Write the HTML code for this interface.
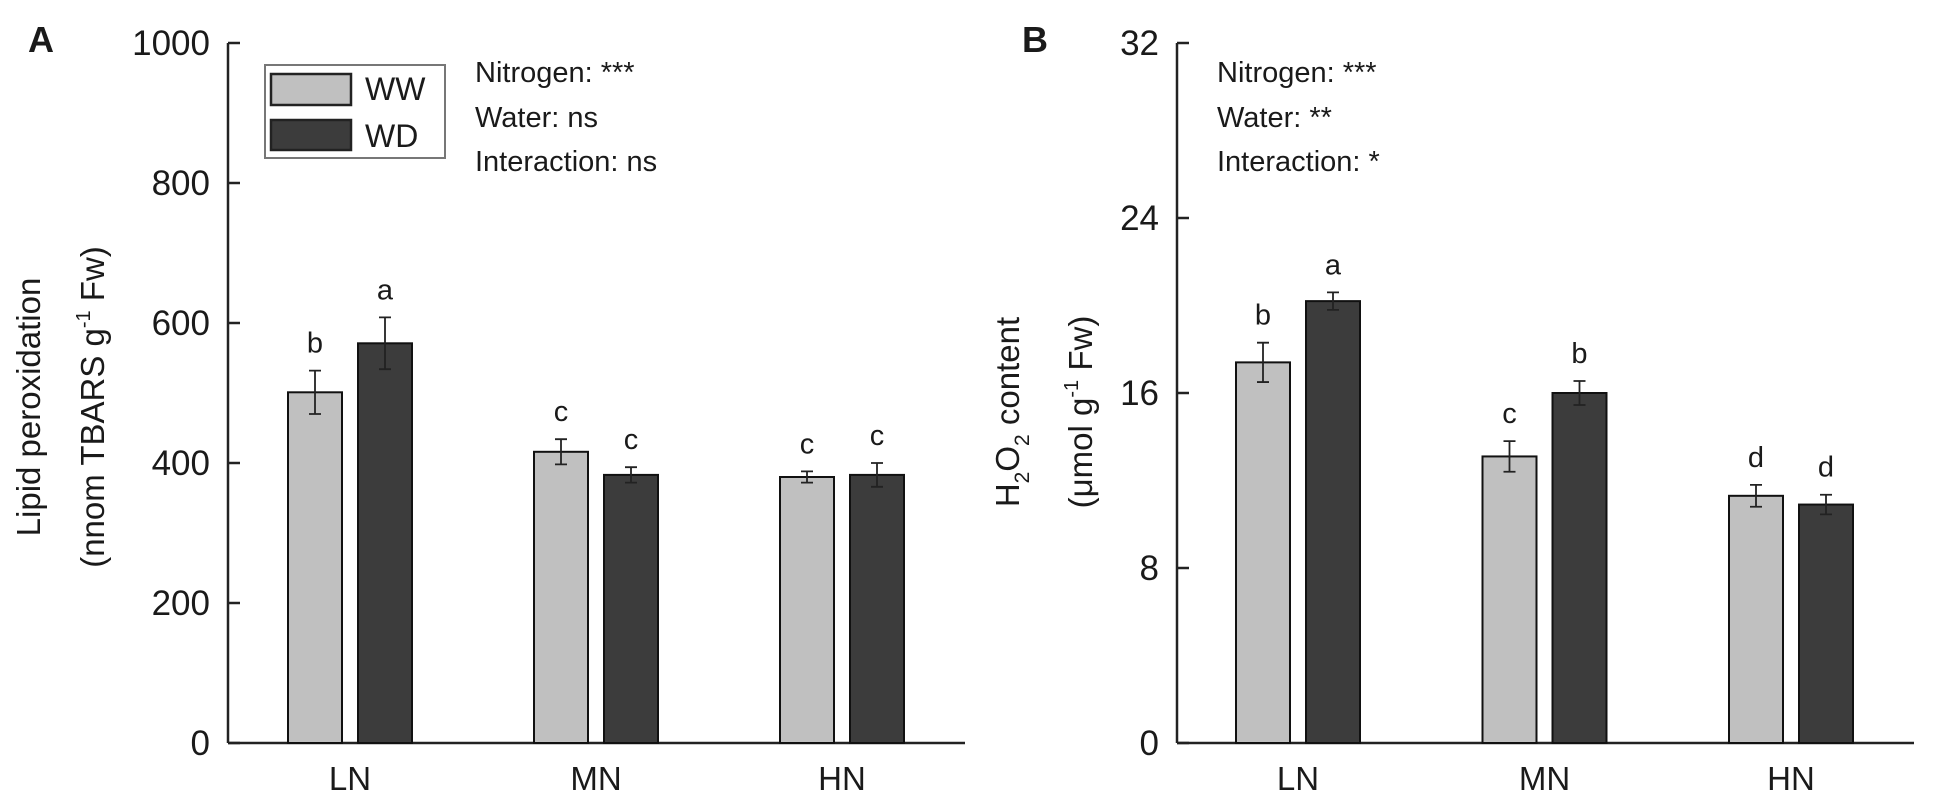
<!DOCTYPE html>
<html><head><meta charset="utf-8"><style>
html,body{margin:0;padding:0;background:#fff}
svg{display:block}
text{font-family:"Liberation Sans",Arial,sans-serif;fill:#1a1a1a}
</style></head><body>
<svg id="fig" width="1934" height="808" viewBox="0 0 1934 808" xmlns="http://www.w3.org/2000/svg">
<g id="pA"></g>
<g id="pB"></g>
</svg>
<script>
const categories = ["LN","MN","HN"];
const aWW = [501, 416, 380];
const aWD = [571, 383, 383];
const aWWerr = [31, 18, 8];
const aWDerr = [37, 11, 17];
const aWWletters = ["b","c","c"];
const aWDletters = ["a","c","c"];
const aTicks = [0,200,400,600,800,1000];
const bWW = [17.4, 13.1, 11.3];
const bWD = [20.2, 16.0, 10.9];
const bWWerr = [0.9, 0.7, 0.5];
const bWDerr = [0.4, 0.55, 0.45];
const bWWletters = ["b","c","d"];
const bWDletters = ["a","b","d"];
const bTicks = [0,8,16,24,32];

const NS="http://www.w3.org/2000/svg";
function mk(parent, tag, attrs, txt){
  const e=document.createElementNS(NS,tag);
  for(const k in attrs) e.setAttribute(k,attrs[k]);
  if(txt!==undefined) e.textContent=txt;
  parent.appendChild(e); return e;
}

function panel(g, o){
  const y0=743, y1=43;
  const ys=v=>y0-(v-o.min)/(o.max-o.min)*(y0-y1);
  const xc=i=>o.c0+i*o.step;
  // axes
  const ya=mk(g,'line',{x1:o.ax,y1:y1,x2:o.ax,y2:y0,stroke:'#222','stroke-width':2.5});
  
  
  const xa=mk(g,'line',{x1:o.ax,y1:y0,x2:o.axEnd,y2:y0,stroke:'#222','stroke-width':2.5});
  
  
  o.ticks.forEach(t=>{
    const y=ys(t);
    const tk=mk(g,'line',{x1:o.ax,y1:y,x2:o.ax+12,y2:y,stroke:'#222','stroke-width':2.5});
    
    
    const tl=mk(g,'text',{x:o.ax-18,y:y+12,'text-anchor':'end','font-size':35},String(t));
    
    
  });
  categories.forEach((c,i)=>{
    const cl=mk(g,'text',{x:xc(i),y:790,'text-anchor':'middle','font-size':33},c);
    
    
    [[o.ww,o.wwe,o.wwl,'#c0c0c0',-1,'ww'],[o.wd,o.wde,o.wdl,'#3c3c3c',1,'wd']].forEach(s=>{
      const v=s[0][i], e=s[1][i];
      const bx = s[4]<0 ? xc(i)-8-54 : xc(i)+8;
      const r=mk(g,'rect',{x:bx,y:ys(v),width:54,height:y0-ys(v),fill:s[3],stroke:'#111','stroke-width':2});
      
      
      const cx=bx+27;
      const eb=mk(g,'path',{d:`M${cx-6},${ys(v+e)}H${cx+6}M${cx},${ys(v+e)}V${ys(v-e)}M${cx-6},${ys(v-e)}H${cx+6}`,stroke:'#222','stroke-width':1.8,fill:'none'});
      
      
      const lt=mk(g,'text',{x:cx,y:ys(v+e)-18,'text-anchor':'middle','font-size':29},s[2][i]);
      
      
    });
  });
}

const A=document.getElementById('pA');
panel(A,{min:0,max:1000,ticks:aTicks,ax:228,axEnd:965,c0:350,step:246,ww:aWW,wd:aWD,wwe:aWWerr,wde:aWDerr,wwl:aWWletters,wdl:aWDletters});
const B=document.getElementById('pB');
panel(B,{min:0,max:32,ticks:bTicks,ax:1177,axEnd:1914,c0:1298,step:246.5,ww:bWW,wd:bWD,wwe:bWWerr,wde:bWDerr,wwl:bWWletters,wdl:bWDletters});
</script>
<script>
const svg=document.getElementById('fig');
const A2=document.getElementById('pA'), B2=document.getElementById('pB');
function t(p,attrs,html,name){
  const e=document.createElementNS("http://www.w3.org/2000/svg",'text');
  for(const k in attrs) e.setAttribute(k,attrs[k]);
  e.innerHTML=html;
  
  
  p.appendChild(e); return e;
}
t(A2,{x:28,y:52,'font-size':36,'font-weight':'bold'},'A','panel-label-a');
t(B2,{x:1022,y:52,'font-size':36,'font-weight':'bold'},'B','panel-label-b');
// legend
const lg=document.createElementNS("http://www.w3.org/2000/svg",'g');


A2.appendChild(lg);
lg.innerHTML='<rect x="265" y="65" width="180" height="93" fill="#fff" stroke="#777" stroke-width="2"/>'+
 '<rect x="271" y="74" width="80" height="31" fill="#c0c0c0" stroke="#222" stroke-width="2.5"/>'+
 '<rect x="271" y="120" width="80" height="30" fill="#3c3c3c" stroke="#222" stroke-width="2.5"/>';
t(lg,{x:365,y:100,'font-size':32},'WW','legend-entry-ww');
t(lg,{x:365,y:147,'font-size':32},'WD','legend-entry-wd');
t(A2,{x:475,y:82,'font-size':29},'Nitrogen: ***','stat-nitrogen');
t(A2,{x:475,y:127,'font-size':29},'Water: ns','stat-water');
t(A2,{x:475,y:171,'font-size':29},'Interaction: ns','stat-interaction');
t(B2,{x:1217,y:82,'font-size':29},'Nitrogen: ***','stat-nitrogen');
t(B2,{x:1217,y:127,'font-size':29},'Water: **','stat-water');
t(B2,{x:1217,y:171,'font-size':29},'Interaction: *','stat-interaction');
// y titles
t(A2,{transform:'translate(40,407) rotate(-90)','text-anchor':'middle','font-size':33},'Lipid peroxidation','y-axis-title-a');
t(A2,{transform:'translate(104,407) rotate(-90)','text-anchor':'middle','font-size':33},'(nnom TBARS g<tspan dy="-14" font-size="20">-1</tspan><tspan dy="14"> Fw)</tspan>','y-axis-units-a');
t(B2,{transform:'translate(1019,412) rotate(-90)','text-anchor':'middle','font-size':33},'H<tspan dy="10" font-size="21">2</tspan><tspan dy="-10">O</tspan><tspan dy="10" font-size="21">2</tspan><tspan dy="-10"> content</tspan>','y-axis-title-b');
t(B2,{transform:'translate(1092,412) rotate(-90)','text-anchor':'middle','font-size':33},'(μmol g<tspan dy="-14" font-size="20">-1</tspan><tspan dy="14"> Fw)</tspan>','y-axis-units-b');
</script>
</body></html>
